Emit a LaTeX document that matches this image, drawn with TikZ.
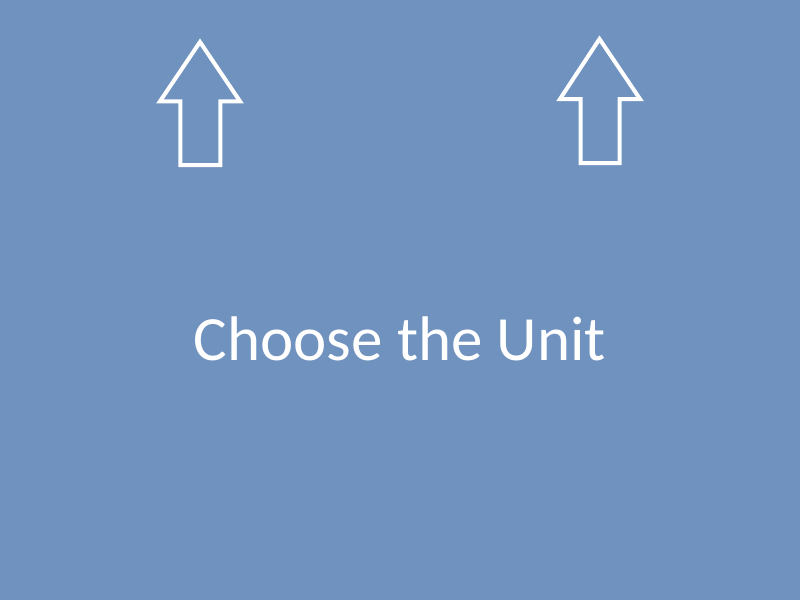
\documentclass[tikz,border=0pt]{standalone}
\usepackage{fontspec}
\setmainfont{Carlito}
\definecolor{slideblue}{RGB}{111,146,191}
\begin{document}
\begin{tikzpicture}[x=1pt,y=-1pt,
	outline/.style={draw=white,line width=4pt,line join=miter}]
		\fill[slideblue] (0,0) rectangle (800,600);
		\useasboundingbox (0,0) rectangle (800,600);
		
		\draw[outline] (200,42) -- (240,101.3) -- (220.3,101.3) -- (220.3,165) -- (180.3,165) -- (180.3,101.3) -- (160,101.3) -- cycle;
		\draw[outline] (599.5,39) -- (640,99) -- (619.5,99) -- (619.5,163) -- (580.5,163) -- (580.5,99) -- (560,99) -- cycle;
		
		\node[text=white,font=\fontsize{63}{68}\selectfont,anchor=base,inner sep=0pt] (title) at (400,360) {Choose the Unit};
    \end{tikzpicture}
\end{document}
